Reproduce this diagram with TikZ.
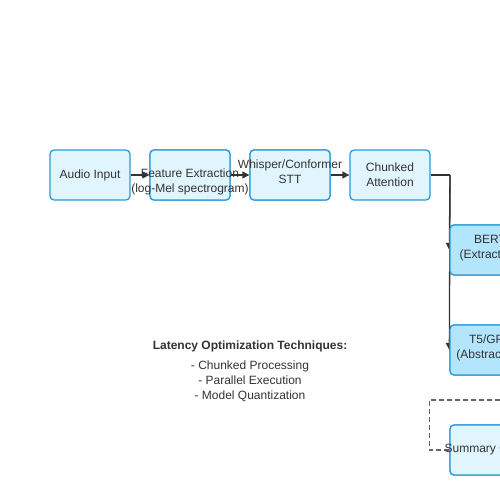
\documentclass[tikz,border=0pt]{standalone}
\usepackage{fontspec}
\setmainfont{Liberation Sans}
\usetikzlibrary{arrows.meta}
\definecolor{boxline}{HTML}{2A9AD8}
\definecolor{lightfill}{HTML}{E1F5FE}
\definecolor{midfill}{HTML}{B3E5FC}
\definecolor{conn}{HTML}{333333}
\definecolor{dashc}{HTML}{666666}
\tikzset{
  stagebox/.style={draw=boxline, line width=1.3pt, rounded corners=4pt, minimum width=80pt, minimum height=50pt, inner sep=0pt, align=center, font=\fontsize{12}{15}\selectfont, text=conn},
  light/.style={stagebox, fill=lightfill},
  mid/.style={stagebox, fill=midfill},
  flow/.style={draw=conn, line width=1.3pt, -{Triangle[length=7pt,width=7pt]}},
  loopline/.style={draw=dashc, line width=1.3pt, dash pattern=on 5pt off 3pt},
  note/.style={font=\fontsize{12}{15}\selectfont, text=conn, align=center}
}
\begin{document}
\begin{tikzpicture}[x=1pt,y=-1pt]
\useasboundingbox (0,0) rectangle (500,500);
\clip (0,0) rectangle (500,500);
\node[light] (audio) at (90,175) {Audio Input};
\node[light] (feat) at (190,175) {};
\node[light] (stt) at (290,175) {};
\node[light] (chunk) at (390,175) {Chunked\\Attention};
\node[mid] (bert) at (490,250) {};
\node[mid] (t5) at (490,350) {};
\node[light] (sum) at (490,450) {};
\coordinate (loopend) at (520,400);
\coordinate (trunk) at (450,175);
% connectors
\draw[flow] (audio.east) -- (feat.west);
\draw[flow] (feat.east) -- (stt.west);
\draw[flow] (stt.east) -- (chunk.west);
\draw[draw=conn, line width=1.3pt] (chunk.east) -- (trunk);
\draw[flow] (trunk) -- (bert.west);
\draw[flow] (trunk) -- (t5.west);
\draw[loopline] (sum.west) -- ++(-20,0) |- (loopend);
% redraw boxes on top
\node[light] at (feat) {};
\node[light] at (stt) {};
\node[mid] at (bert) {};
\node[mid] at (t5) {};
\node[light] at (sum) {};
% labels
\node[note] (featlbl) at (190,182) {Feature Extraction\\(log-Mel spectrogram)};
\node[note] (sttlbl) at (290,172) {Whisper/Conformer\\STT};
\node[note] (bertlbl) at (490,248) {BERT\\(Extractive)};
\node[note] (t5lbl) at (490,348) {T5/GPT\\(Abstractive)};
\node[note] (sumlbl) at (490,450) {Summary Output};
\node[note, font=\fontsize{12}{15}\selectfont\bfseries] (lathead) at (250,346) {Latency Optimization Techniques:};
\node[note] (latlist) at (250,381) {- Chunked Processing\\- Parallel Execution\\- Model Quantization};
\end{tikzpicture}
\end{document}
